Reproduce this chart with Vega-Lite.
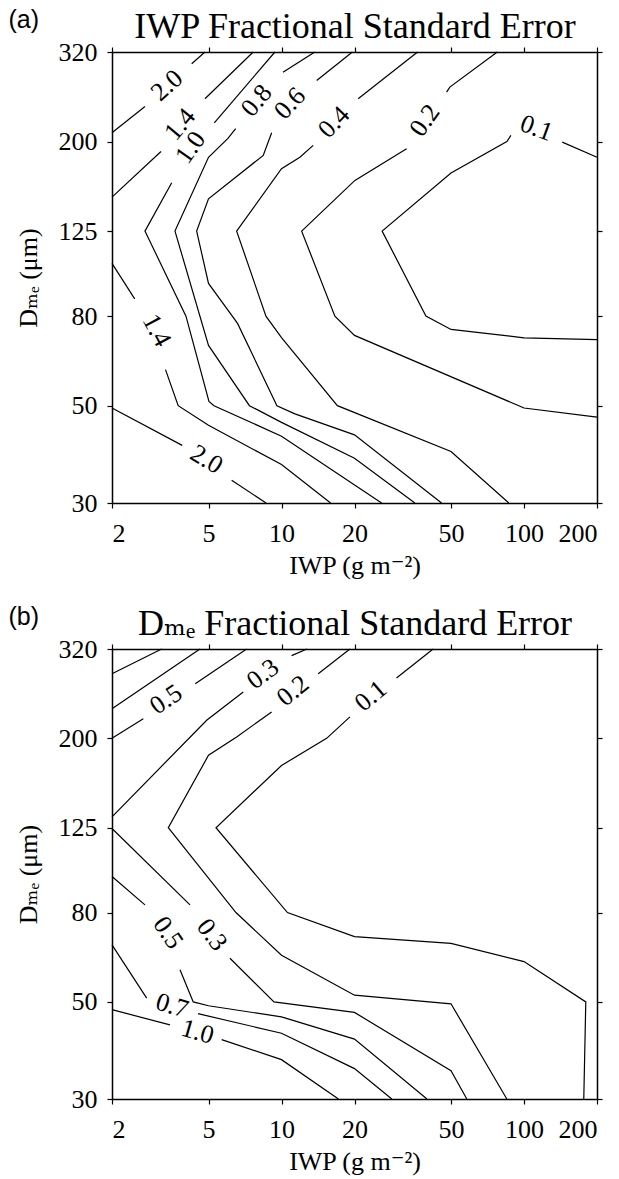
{
  "$schema": "https://vega.github.io/schema/vega-lite/v6.json",
  "background": "white",
  "padding": {"left": 8, "top": 7, "right": 2, "bottom": 2},
  "spacing": 26,
  "config": {
    "view": {"stroke": null},
    "font": "Liberation Serif",
    "axis": {
      "grid": false,
      "domainColor": "black",
      "domainWidth": 1.5,
      "tickColor": "black",
      "tickWidth": 1.2,
      "tickSize": 5,
      "labelColor": "black",
      "titleColor": "black",
      "labelFont": "Liberation Serif",
      "titleFont": "Liberation Serif, DejaVu Serif",
      "labelFontSize": 26,
      "titleFontSize": 26,
      "titleFontWeight": "normal"
    },
    "text": {"font": "Liberation Serif", "fontSize": 26, "color": "black", "align": "center", "baseline": "middle"},
    "line": {"color": "black", "strokeWidth": 1.2}
  },
  "datasets": {
    "la": [
      {"s": "a20u1", "o": 0, "iwp": 2, "dme": 209.4}, {"s": "a20u1", "o": 1, "iwp": 2.735, "dme": 240.4},
      {"s": "a20u2", "o": 0, "iwp": 4.263, "dme": 300.8}, {"s": "a20u2", "o": 1, "iwp": 4.835, "dme": 320},
      {"s": "a14u1", "o": 0, "iwp": 2, "dme": 149.4}, {"s": "a14u1", "o": 1, "iwp": 3.185, "dme": 189.8},
      {"s": "a14u2", "o": 0, "iwp": 4.835, "dme": 250.3}, {"s": "a14u2", "o": 1, "iwp": 7.645, "dme": 320},
      {"s": "a10a", "o": 0, "iwp": 9.397, "dme": 320}, {"s": "a10a", "o": 1, "iwp": 5.283, "dme": 220.7},
      {"s": "a10b", "o": 0, "iwp": 3.526, "dme": 161.1}, {"s": "a10b", "o": 1, "iwp": 2.735, "dme": 125}, {"s": "a10b", "o": 2, "iwp": 4.037, "dme": 80}, {"s": "a10b", "o": 3, "iwp": 5.022, "dme": 51.1}, {"s": "a10b", "o": 4, "iwp": 5.268, "dme": 50}, {"s": "a10b", "o": 5, "iwp": 10, "dme": 42.6}, {"s": "a10b", "o": 6, "iwp": 25.87, "dme": 30},
      {"s": "a08a", "o": 0, "iwp": 13.72, "dme": 320}, {"s": "a08a", "o": 1, "iwp": 10.14, "dme": 287.8},
      {"s": "a08b", "o": 0, "iwp": 6.47, "dme": 213.9}, {"s": "a08b", "o": 1, "iwp": 6.014, "dme": 203.3}, {"s": "a08b", "o": 2, "iwp": 5, "dme": 184.2}, {"s": "a08b", "o": 3, "iwp": 3.637, "dme": 125}, {"s": "a08b", "o": 4, "iwp": 5, "dme": 68.6}, {"s": "a08b", "o": 5, "iwp": 7.376, "dme": 50}, {"s": "a08b", "o": 6, "iwp": 10, "dme": 45.8}, {"s": "a08b", "o": 7, "iwp": 20, "dme": 37.96}, {"s": "a08b", "o": 8, "iwp": 35.48, "dme": 30},
      {"s": "a06a", "o": 0, "iwp": 19.6, "dme": 320}, {"s": "a06a", "o": 1, "iwp": 13.97, "dme": 275.5},
      {"s": "a06b", "o": 0, "iwp": 9.107, "dme": 209.4}, {"s": "a06b", "o": 1, "iwp": 8.408, "dme": 186.0}, {"s": "a06b", "o": 2, "iwp": 5, "dme": 148.1}, {"s": "a06b", "o": 3, "iwp": 4.468, "dme": 125}, {"s": "a06b", "o": 4, "iwp": 5, "dme": 95.0}, {"s": "a06b", "o": 5, "iwp": 6.588, "dme": 77.0}, {"s": "a06b", "o": 6, "iwp": 9.576, "dme": 50}, {"s": "a06b", "o": 7, "iwp": 11.36, "dme": 47.9}, {"s": "a06b", "o": 8, "iwp": 20, "dme": 42.9}, {"s": "a06b", "o": 9, "iwp": 45.72, "dme": 30},
      {"s": "a04a", "o": 0, "iwp": 36.4, "dme": 320}, {"s": "a04a", "o": 1, "iwp": 20.71, "dme": 250.3},
      {"s": "a04b", "o": 0, "iwp": 13.51, "dme": 196.0}, {"s": "a04b", "o": 1, "iwp": 11.91, "dme": 184.2}, {"s": "a04b", "o": 2, "iwp": 10, "dme": 173.4}, {"s": "a04b", "o": 3, "iwp": 6.532, "dme": 125}, {"s": "a04b", "o": 4, "iwp": 8.626, "dme": 80}, {"s": "a04b", "o": 5, "iwp": 10, "dme": 71.5}, {"s": "a04b", "o": 6, "iwp": 17.0, "dme": 50}, {"s": "a04b", "o": 7, "iwp": 50, "dme": 39.3}, {"s": "a04b", "o": 8, "iwp": 86.6, "dme": 30},
      {"s": "a02a", "o": 0, "iwp": 77.6, "dme": 320}, {"s": "a02a", "o": 1, "iwp": 49.45, "dme": 266.1}, {"s": "a02a", "o": 2, "iwp": 47.93, "dme": 259.2},
      {"s": "a02b", "o": 0, "iwp": 32.8, "dme": 192.6}, {"s": "a02b", "o": 1, "iwp": 20.08, "dme": 163.1}, {"s": "a02b", "o": 2, "iwp": 12.11, "dme": 125}, {"s": "a02b", "o": 3, "iwp": 16.6, "dme": 80}, {"s": "a02b", "o": 4, "iwp": 20, "dme": 72.3}, {"s": "a02b", "o": 5, "iwp": 100, "dme": 49.4}, {"s": "a02b", "o": 6, "iwp": 200, "dme": 47.1},
      {"s": "a01a", "o": 0, "iwp": 200, "dme": 184.2}, {"s": "a01a", "o": 1, "iwp": 143.8, "dme": 199.4},
      {"s": "a01b", "o": 0, "iwp": 88.3, "dme": 206.5}, {"s": "a01b", "o": 1, "iwp": 84.97, "dme": 200}, {"s": "a01b", "o": 2, "iwp": 50, "dme": 169.6}, {"s": "a01b", "o": 3, "iwp": 26.0, "dme": 125}, {"s": "a01b", "o": 4, "iwp": 39.4, "dme": 80}, {"s": "a01b", "o": 5, "iwp": 50, "dme": 74.6}, {"s": "a01b", "o": 6, "iwp": 100, "dme": 71.4}, {"s": "a01b", "o": 7, "iwp": 200, "dme": 70.7},
      {"s": "a14l1", "o": 0, "iwp": 2, "dme": 105.5}, {"s": "a14l1", "o": 1, "iwp": 2.481, "dme": 87.6},
      {"s": "a14l2", "o": 0, "iwp": 3.324, "dme": 60.4}, {"s": "a14l2", "o": 1, "iwp": 3.749, "dme": 50}, {"s": "a14l2", "o": 2, "iwp": 5, "dme": 45.1}, {"s": "a14l2", "o": 3, "iwp": 10, "dme": 36.7}, {"s": "a14l2", "o": 4, "iwp": 15.94, "dme": 30},
      {"s": "a20l1", "o": 0, "iwp": 2, "dme": 49.4}, {"s": "a20l1", "o": 1, "iwp": 3.895, "dme": 40.6},
      {"s": "a20l2", "o": 0, "iwp": 6.229, "dme": 33.8}, {"s": "a20l2", "o": 1, "iwp": 8.634, "dme": 30}
    ],
    "lb": [
      {"s": "b10u", "o": 0, "iwp": 2, "dme": 281.0}, {"s": "b10u", "o": 1, "iwp": 3.205, "dme": 320},
      {"s": "b07u", "o": 0, "iwp": 2, "dme": 233.8}, {"s": "b07u", "o": 1, "iwp": 4.611, "dme": 320},
      {"s": "b05u1", "o": 0, "iwp": 2, "dme": 200}, {"s": "b05u1", "o": 1, "iwp": 2.692, "dme": 221.8},
      {"s": "b05u2", "o": 0, "iwp": 4.409, "dme": 266.7}, {"s": "b05u2", "o": 1, "iwp": 7.182, "dme": 320},
      {"s": "b03u1", "o": 0, "iwp": 2, "dme": 132.3}, {"s": "b03u1", "o": 1, "iwp": 4.914, "dme": 220.0}, {"s": "b03u1", "o": 2, "iwp": 6.954, "dme": 255.3},
      {"s": "b03u2", "o": 0, "iwp": 11.01, "dme": 309.0}, {"s": "b03u2", "o": 1, "iwp": 12.73, "dme": 320},
      {"s": "b03l1", "o": 0, "iwp": 2, "dme": 124.5}, {"s": "b03l1", "o": 1, "iwp": 4.194, "dme": 83.3},
      {"s": "b03l2", "o": 0, "iwp": 6.129, "dme": 62.9}, {"s": "b03l2", "o": 1, "iwp": 9.308, "dme": 50}, {"s": "b03l2", "o": 2, "iwp": 20, "dme": 47.3}, {"s": "b03l2", "o": 3, "iwp": 50, "dme": 34.8}, {"s": "b03l2", "o": 4, "iwp": 58.1, "dme": 30},
      {"s": "b02a", "o": 0, "iwp": 14.17, "dme": 281.0}, {"s": "b02a", "o": 1, "iwp": 19.15, "dme": 320},
      {"s": "b02b", "o": 0, "iwp": 9.107, "dme": 229.8}, {"s": "b02b", "o": 1, "iwp": 6.532, "dme": 201.5}, {"s": "b02b", "o": 2, "iwp": 5, "dme": 183.0}, {"s": "b02b", "o": 3, "iwp": 3.413, "dme": 125}, {"s": "b02b", "o": 4, "iwp": 6.489, "dme": 80}, {"s": "b02b", "o": 5, "iwp": 10, "dme": 63.9}, {"s": "b02b", "o": 6, "iwp": 20, "dme": 51.8}, {"s": "b02b", "o": 7, "iwp": 50, "dme": 49.5}, {"s": "b02b", "o": 8, "iwp": 84.97, "dme": 30},
      {"s": "b01a", "o": 0, "iwp": 42.2, "dme": 320}, {"s": "b01a", "o": 1, "iwp": 29.8, "dme": 274.8},
      {"s": "b01b", "o": 0, "iwp": 19.15, "dme": 223.9}, {"s": "b01b", "o": 1, "iwp": 15.35, "dme": 200}, {"s": "b01b", "o": 2, "iwp": 10, "dme": 173.4}, {"s": "b01b", "o": 3, "iwp": 5.368, "dme": 125}, {"s": "b01b", "o": 4, "iwp": 10.58, "dme": 80}, {"s": "b01b", "o": 5, "iwp": 20, "dme": 70.5}, {"s": "b01b", "o": 6, "iwp": 50, "dme": 68.0}, {"s": "b01b", "o": 7, "iwp": 100, "dme": 61.8}, {"s": "b01b", "o": 8, "iwp": 179.8, "dme": 50}, {"s": "b01b", "o": 9, "iwp": 176.4, "dme": 30},
      {"s": "b05l1", "o": 0, "iwp": 2, "dme": 96.7}, {"s": "b05l1", "o": 1, "iwp": 2.735, "dme": 83.3},
      {"s": "b05l2", "o": 0, "iwp": 3.814, "dme": 59.2}, {"s": "b05l2", "o": 1, "iwp": 4.326, "dme": 50}, {"s": "b05l2", "o": 2, "iwp": 5, "dme": 49.0}, {"s": "b05l2", "o": 3, "iwp": 10, "dme": 46.2}, {"s": "b05l2", "o": 4, "iwp": 20, "dme": 41.1}, {"s": "b05l2", "o": 5, "iwp": 39.8, "dme": 30},
      {"s": "b07l1", "o": 0, "iwp": 2, "dme": 67.5}, {"s": "b07l1", "o": 1, "iwp": 2.78, "dme": 51.0},
      {"s": "b07l2", "o": 0, "iwp": 4.524, "dme": 47.0}, {"s": "b07l2", "o": 1, "iwp": 10, "dme": 42.4}, {"s": "b07l2", "o": 2, "iwp": 20, "dme": 35.2}, {"s": "b07l2", "o": 3, "iwp": 28.5, "dme": 30},
      {"s": "b10l1", "o": 0, "iwp": 2, "dme": 48.0}, {"s": "b10l1", "o": 1, "iwp": 3.468, "dme": 44.3},
      {"s": "b10l2", "o": 0, "iwp": 5.665, "dme": 41.0}, {"s": "b10l2", "o": 1, "iwp": 10, "dme": 36.9}, {"s": "b10l2", "o": 2, "iwp": 17.17, "dme": 30}
    ],
    "ta": [
      {"id": 1, "t": "2.0", "iwp": 3.372, "dme": 268.5},
      {"id": 2, "t": "1.4", "iwp": 3.814, "dme": 218.8},
      {"id": 3, "t": "1.0", "iwp": 4.214, "dme": 193.9},
      {"id": 4, "t": "0.8", "iwp": 7.896, "dme": 248.0},
      {"id": 5, "t": "0.6", "iwp": 10.83, "dme": 244.2},
      {"id": 6, "t": "0.4", "iwp": 16.45, "dme": 221.4},
      {"id": 7, "t": "0.2", "iwp": 39.0, "dme": 223.4},
      {"id": 8, "t": "0.1", "iwp": 112.5, "dme": 214.7},
      {"id": 9, "t": "1.4", "iwp": 3.057, "dme": 74.2},
      {"id": 10, "t": "2.0", "iwp": 4.914, "dme": 37.7}
    ],
    "tb": [
      {"id": 1, "t": "0.5", "iwp": 3.34, "dme": 245.4},
      {"id": 2, "t": "0.3", "iwp": 8.384, "dme": 280.6},
      {"id": 3, "t": "0.2", "iwp": 11.15, "dme": 256.7},
      {"id": 4, "t": "0.1", "iwp": 23.37, "dme": 249.9},
      {"id": 5, "t": "0.5", "iwp": 3.404, "dme": 71.9},
      {"id": 6, "t": "0.3", "iwp": 5.168, "dme": 71.1},
      {"id": 7, "t": "0.7", "iwp": 3.536, "dme": 49.0},
      {"id": 8, "t": "1.0", "iwp": 4.503, "dme": 42.7}
    ]
  },
  "vconcat": [
    {
      "width": 485,
      "height": 451,
      "resolve": {"axis": {"x": "independent", "y": "independent"}},
      "layer": [
        {
          "data": {"name": "la"},
          "mark": {"type": "line"},
          "encoding": {
            "x": {"field": "iwp", "type": "quantitative", "scale": {"type": "log", "domain": [2, 200], "nice": false},
              "axis": {"orient": "bottom", "values": [2, 5, 10, 20, 50, 100, 200], "format": "d", "labelPadding": 12, "titlePadding": 6, "title": "IWP (g m⁻²)"}},
            "y": {"field": "dme", "type": "quantitative", "scale": {"type": "log", "domain": [30, 320], "nice": false},
              "axis": {"orient": "left", "values": [30, 50, 80, 125, 200, 320], "format": "d", "labelPadding": 10, "titlePadding": 17, "title": "Dₘₑ (μm)"}},
            "detail": {"field": "s"},
            "order": {"field": "o"}
          }
        },
        {
          "data": {"name": "ta"},
          "transform": [{"filter": "datum.id == 1"}],
          "mark": {"type": "text", "angle": 318},
          "encoding": {
            "x": {"field": "iwp", "type": "quantitative", "scale": {"type": "log", "domain": [2, 200], "nice": false},
              "axis": {"orient": "top", "values": [2, 5, 10, 20, 50, 100, 200], "labels": false, "title": "IWP Fractional Standard Error", "titleFontSize": 36, "titleY": -15, "titleBaseline": "alphabetic"}},
            "y": {"field": "dme", "type": "quantitative", "scale": {"type": "log", "domain": [30, 320], "nice": false},
              "axis": {"orient": "right", "values": [30, 50, 80, 125, 200, 320], "labels": false, "title": "(a)", "titleFont": "Liberation Sans", "titleFontSize": 25, "titleAngle": 0, "titleX": -589, "titleY": -24.5, "titleAlign": "left", "titleBaseline": "alphabetic"}},
            "text": {"field": "t"}
          }
        },
        {"data": {"name": "ta"}, "transform": [{"filter": "datum.id == 2"}], "mark": {"type": "text", "angle": 310},
          "encoding": {"x": {"field": "iwp", "type": "quantitative", "scale": {"type": "log", "domain": [2, 200], "nice": false}, "axis": null}, "y": {"field": "dme", "type": "quantitative", "scale": {"type": "log", "domain": [30, 320], "nice": false}, "axis": null}, "text": {"field": "t"}}},
        {"data": {"name": "ta"}, "transform": [{"filter": "datum.id == 3"}], "mark": {"type": "text", "angle": 305},
          "encoding": {"x": {"field": "iwp", "type": "quantitative", "scale": {"type": "log", "domain": [2, 200], "nice": false}, "axis": null}, "y": {"field": "dme", "type": "quantitative", "scale": {"type": "log", "domain": [30, 320], "nice": false}, "axis": null}, "text": {"field": "t"}}},
        {"data": {"name": "ta"}, "transform": [{"filter": "datum.id == 4"}], "mark": {"type": "text", "angle": 310},
          "encoding": {"x": {"field": "iwp", "type": "quantitative", "scale": {"type": "log", "domain": [2, 200], "nice": false}, "axis": null}, "y": {"field": "dme", "type": "quantitative", "scale": {"type": "log", "domain": [30, 320], "nice": false}, "axis": null}, "text": {"field": "t"}}},
        {"data": {"name": "ta"}, "transform": [{"filter": "datum.id == 5"}], "mark": {"type": "text", "angle": 313},
          "encoding": {"x": {"field": "iwp", "type": "quantitative", "scale": {"type": "log", "domain": [2, 200], "nice": false}, "axis": null}, "y": {"field": "dme", "type": "quantitative", "scale": {"type": "log", "domain": [30, 320], "nice": false}, "axis": null}, "text": {"field": "t"}}},
        {"data": {"name": "ta"}, "transform": [{"filter": "datum.id == 6"}], "mark": {"type": "text", "angle": 314},
          "encoding": {"x": {"field": "iwp", "type": "quantitative", "scale": {"type": "log", "domain": [2, 200], "nice": false}, "axis": null}, "y": {"field": "dme", "type": "quantitative", "scale": {"type": "log", "domain": [30, 320], "nice": false}, "axis": null}, "text": {"field": "t"}}},
        {"data": {"name": "ta"}, "transform": [{"filter": "datum.id == 7"}], "mark": {"type": "text", "angle": 305},
          "encoding": {"x": {"field": "iwp", "type": "quantitative", "scale": {"type": "log", "domain": [2, 200], "nice": false}, "axis": null}, "y": {"field": "dme", "type": "quantitative", "scale": {"type": "log", "domain": [30, 320], "nice": false}, "axis": null}, "text": {"field": "t"}}},
        {"data": {"name": "ta"}, "transform": [{"filter": "datum.id == 8"}], "mark": {"type": "text", "angle": 20},
          "encoding": {"x": {"field": "iwp", "type": "quantitative", "scale": {"type": "log", "domain": [2, 200], "nice": false}, "axis": null}, "y": {"field": "dme", "type": "quantitative", "scale": {"type": "log", "domain": [30, 320], "nice": false}, "axis": null}, "text": {"field": "t"}}},
        {"data": {"name": "ta"}, "transform": [{"filter": "datum.id == 9"}], "mark": {"type": "text", "angle": 62},
          "encoding": {"x": {"field": "iwp", "type": "quantitative", "scale": {"type": "log", "domain": [2, 200], "nice": false}, "axis": null}, "y": {"field": "dme", "type": "quantitative", "scale": {"type": "log", "domain": [30, 320], "nice": false}, "axis": null}, "text": {"field": "t"}}},
        {"data": {"name": "ta"}, "transform": [{"filter": "datum.id == 10"}], "mark": {"type": "text", "angle": 31},
          "encoding": {"x": {"field": "iwp", "type": "quantitative", "scale": {"type": "log", "domain": [2, 200], "nice": false}, "axis": null}, "y": {"field": "dme", "type": "quantitative", "scale": {"type": "log", "domain": [30, 320], "nice": false}, "axis": null}, "text": {"field": "t"}}}
      ]
    },
    {
      "width": 485,
      "height": 450,
      "resolve": {"axis": {"x": "independent", "y": "independent"}},
      "layer": [
        {
          "data": {"name": "lb"},
          "mark": {"type": "line"},
          "encoding": {
            "x": {"field": "iwp", "type": "quantitative", "scale": {"type": "log", "domain": [2, 200], "nice": false},
              "axis": {"orient": "bottom", "values": [2, 5, 10, 20, 50, 100, 200], "format": "d", "labelPadding": 12, "titlePadding": 6, "title": "IWP (g m⁻²)"}},
            "y": {"field": "dme", "type": "quantitative", "scale": {"type": "log", "domain": [30, 320], "nice": false},
              "axis": {"orient": "left", "values": [30, 50, 80, 125, 200, 320], "format": "d", "labelPadding": 10, "titlePadding": 17, "title": "Dₘₑ (μm)"}},
            "detail": {"field": "s"},
            "order": {"field": "o"}
          }
        },
        {
          "data": {"name": "tb"},
          "transform": [{"filter": "datum.id == 1"}],
          "mark": {"type": "text", "angle": 326},
          "encoding": {
            "x": {"field": "iwp", "type": "quantitative", "scale": {"type": "log", "domain": [2, 200], "nice": false},
              "axis": {"orient": "top", "values": [2, 5, 10, 20, 50, 100, 200], "labels": false, "title": "Dₘₑ Fractional Standard Error", "titleFontSize": 36, "titleY": -15, "titleBaseline": "alphabetic"}},
            "y": {"field": "dme", "type": "quantitative", "scale": {"type": "log", "domain": [30, 320], "nice": false},
              "axis": {"orient": "right", "values": [30, 50, 80, 125, 200, 320], "labels": false, "title": "(b)", "titleFont": "Liberation Sans", "titleFontSize": 25, "titleAngle": 0, "titleX": -589, "titleY": -24.5, "titleAlign": "left", "titleBaseline": "alphabetic"}},
            "text": {"field": "t"}
          }
        },
        {"data": {"name": "tb"}, "transform": [{"filter": "datum.id == 2"}], "mark": {"type": "text", "angle": 323},
          "encoding": {"x": {"field": "iwp", "type": "quantitative", "scale": {"type": "log", "domain": [2, 200], "nice": false}, "axis": null}, "y": {"field": "dme", "type": "quantitative", "scale": {"type": "log", "domain": [30, 320], "nice": false}, "axis": null}, "text": {"field": "t"}}},
        {"data": {"name": "tb"}, "transform": [{"filter": "datum.id == 3"}], "mark": {"type": "text", "angle": 321},
          "encoding": {"x": {"field": "iwp", "type": "quantitative", "scale": {"type": "log", "domain": [2, 200], "nice": false}, "axis": null}, "y": {"field": "dme", "type": "quantitative", "scale": {"type": "log", "domain": [30, 320], "nice": false}, "axis": null}, "text": {"field": "t"}}},
        {"data": {"name": "tb"}, "transform": [{"filter": "datum.id == 4"}], "mark": {"type": "text", "angle": 320},
          "encoding": {"x": {"field": "iwp", "type": "quantitative", "scale": {"type": "log", "domain": [2, 200], "nice": false}, "axis": null}, "y": {"field": "dme", "type": "quantitative", "scale": {"type": "log", "domain": [30, 320], "nice": false}, "axis": null}, "text": {"field": "t"}}},
        {"data": {"name": "tb"}, "transform": [{"filter": "datum.id == 5"}], "mark": {"type": "text", "angle": 56},
          "encoding": {"x": {"field": "iwp", "type": "quantitative", "scale": {"type": "log", "domain": [2, 200], "nice": false}, "axis": null}, "y": {"field": "dme", "type": "quantitative", "scale": {"type": "log", "domain": [30, 320], "nice": false}, "axis": null}, "text": {"field": "t"}}},
        {"data": {"name": "tb"}, "transform": [{"filter": "datum.id == 6"}], "mark": {"type": "text", "angle": 53},
          "encoding": {"x": {"field": "iwp", "type": "quantitative", "scale": {"type": "log", "domain": [2, 200], "nice": false}, "axis": null}, "y": {"field": "dme", "type": "quantitative", "scale": {"type": "log", "domain": [30, 320], "nice": false}, "axis": null}, "text": {"field": "t"}}},
        {"data": {"name": "tb"}, "transform": [{"filter": "datum.id == 7"}], "mark": {"type": "text", "angle": 17},
          "encoding": {"x": {"field": "iwp", "type": "quantitative", "scale": {"type": "log", "domain": [2, 200], "nice": false}, "axis": null}, "y": {"field": "dme", "type": "quantitative", "scale": {"type": "log", "domain": [30, 320], "nice": false}, "axis": null}, "text": {"field": "t"}}},
        {"data": {"name": "tb"}, "transform": [{"filter": "datum.id == 8"}], "mark": {"type": "text", "angle": 16},
          "encoding": {"x": {"field": "iwp", "type": "quantitative", "scale": {"type": "log", "domain": [2, 200], "nice": false}, "axis": null}, "y": {"field": "dme", "type": "quantitative", "scale": {"type": "log", "domain": [30, 320], "nice": false}, "axis": null}, "text": {"field": "t"}}}
      ]
    }
  ]
}
